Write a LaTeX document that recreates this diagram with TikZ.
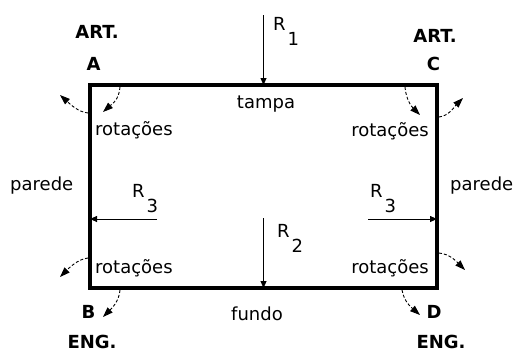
\documentclass[tikz,border=0pt]{standalone}
\usepackage{fontspec}
\setmainfont{DejaVu Sans}
\usetikzlibrary{arrows.meta,positioning}

\begin{document}
\begin{tikzpicture}[
    x=1pt, y=-1pt,
    txt/.style={font=\fontsize{18}{20}\selectfont, inner sep=0pt},
    tag/.style={font=\fontsize{18}{20}\selectfont\bfseries, inner sep=0pt},
    force/.style={-{Triangle[length=7pt,width=6pt]}, line width=0.8pt},
    rot/.style={-{Triangle[length=10pt,width=7pt]}, line width=0.9pt,
                dash pattern=on 3pt off 2pt}
]
\useasboundingbox (0,0) rectangle (516,351);

\node[draw, line width=4pt, inner sep=0pt, outer sep=0pt,
      minimum width=347pt, minimum height=203pt] (box) at (263.5,186.5) {};

% supports
\node[tag, anchor=base] (artA) at (97,38) {ART.};
\node[tag, anchor=base] (ptA) at (93.5,70) {A};
\node[tag, anchor=base] (artC) at (435,42) {ART.};
\node[tag, anchor=base] (ptC) at (433.5,70) {C};
\node[tag, anchor=base] (ptB) at (88.5,318) {B};
\node[tag, anchor=base] (engB) at (92,348) {ENG.};
\node[tag, anchor=base] (ptD) at (434,318) {D};
\node[tag, anchor=base] (engD) at (441,348) {ENG.};

% walls
\node[txt, anchor=base] (tampa) at (266,108) {tampa};
\node[txt, anchor=base] (fundo) at (257,320) {fundo};
\node[txt, anchor=base west] (parL) at (10,190) {parede};
\node[txt, anchor=base west] (parR) at (450,190) {parede};
\node[txt, anchor=base west] (rotA) at (95,135) {rotações};
\node[txt, anchor=base east] (rotC) at (429,136) {rotações};
\node[txt, anchor=base west] (rotB) at (95,273) {rotações};
\node[txt, anchor=base east] (rotD) at (429,273) {rotações};

% forces
\coordinate (r1) at (263.5,15);
\coordinate (r2) at (263.5,218);
\coordinate (r3l) at (157,219);
\coordinate (r3r) at (368,219);
\draw[force] (r1) -- (box.north);
\draw[force] (r2) -- (box.south);
\draw[force] (r3l) -- (r3l -| box.west);
\draw[force] (r3r) -- (r3r -| box.east);
\node[txt, anchor=base west] (lr1) at (273,30) {R\kern2pt\raisebox{-15pt}{1}};
\node[txt, anchor=base west] (lr2) at (277,237) {R\kern2pt\raisebox{-15pt}{2}};
\node[txt, anchor=base west] (lr3l) at (132,197) {R\kern2pt\raisebox{-15pt}{3}};
\node[txt, anchor=base west] (lr3r) at (370,197) {R\kern2pt\raisebox{-15pt}{3}};

% rotations at the corners
\draw[rot] ([xshift=30pt,yshift=-2pt]box.north west) .. controls (119,100) and (112,104) .. (103,112);
\draw[rot] ([xshift=-2pt,yshift=-28pt]box.north west) .. controls (78,112) and (70,104) .. (60,95);
\draw[rot] ([xshift=-32pt,yshift=-2pt]box.north east) .. controls (406,100) and (412,107) .. (420,115);
\draw[rot] ([xshift=2pt,yshift=-32pt]box.north east) .. controls (449,116) and (455,106) .. (463,98);
\draw[rot] ([xshift=-2pt,yshift=30pt]box.south west) .. controls (78,259) and (69,268) .. (60,277);
\draw[rot] ([xshift=30pt,yshift=-2pt]box.south west) .. controls (119,302) and (111,309) .. (103,317);
\draw[rot] ([xshift=2pt,yshift=35pt]box.south east) .. controls (450,254) and (457,262) .. (465,270);
\draw[rot] ([xshift=-35pt,yshift=-2pt]box.south east) .. controls (404,302) and (412,308) .. (420,315);

\end{tikzpicture}
\end{document}
